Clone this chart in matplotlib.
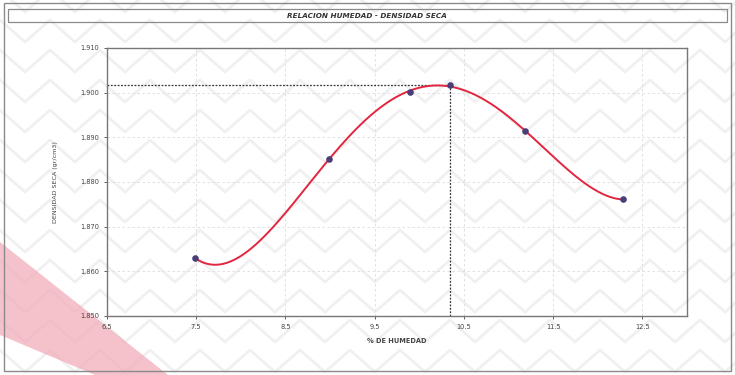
import numpy as np
import matplotlib
matplotlib.use("Agg")
import matplotlib.pyplot as plt
from matplotlib.patches import Rectangle, Polygon

# Compaction test results
humedad = [7.49, 8.99, 9.90, 10.34, 11.18, 12.28]          # % moisture
densidad = [1.8629, 1.8852, 1.9002, 1.9017, 1.8915, 1.8761]  # dry density g/cm3

x_ticks = [6.5, 7.5, 8.5, 9.5, 10.5, 11.5, 12.5]
y_ticks = [1.850, 1.860, 1.870, 1.880, 1.890, 1.900, 1.910]

titulo = "RELACION HUMEDAD - DENSIDAD SECA"
x_label = "% DE HUMEDAD"
y_label = "DENSIDAD SECA (gr/cm3)"

W, H = 735, 375
fig = plt.figure(figsize=(W / 100, H / 100), dpi=100)
fig.patch.set_facecolor("white")

# background chevron texture
bg = fig.add_axes([0, 0, 1, 1], zorder=-10)
bg.set_xlim(0, W)
bg.set_ylim(H, 0)
bg.axis("off")
period_x, amp, row_gap = 50, 22, 30
xs_bg = np.arange(-period_x, W + period_x, period_x / 2)
for k, y0 in enumerate(np.arange(-40, H + 60, row_gap)):
    ys_bg = y0 + np.where(np.arange(len(xs_bg)) % 2 == 0, 0, amp)
    bg.plot(xs_bg, ys_bg, color="#f0f0f0", lw=2.0, zorder=0)

# pink diagonal band in the lower-left corner
band = Polygon([[0, 242], [0, 335], [95, 375], [168, 375]], closed=True,
               facecolor="#f1a9b6", edgecolor="none", alpha=0.7, zorder=1)
bg.add_patch(band)

# frames
bg.add_patch(Rectangle((4, 3), 727, 368, fill=False, edgecolor="#8a8a8a", lw=1.0))
bg.add_patch(Rectangle((8, 9), 719, 13, fill=False, edgecolor="#8a8a8a", lw=0.9))
bg.text(367, 15.5, titulo, ha="center", va="center", fontsize=5.2,
        fontstyle="italic", fontweight="bold", color="#333333")

# main plot area
ax = fig.add_axes([107 / W, 1 - 316 / H, (687 - 107) / W, (316 - 48) / H])
ax.patch.set_alpha(0)
ax.set_xlim(6.5, 13.0)
ax.set_ylim(1.850, 1.910)
ax.set_xticks(x_ticks)
ax.set_yticks(y_ticks)
ax.set_xticklabels([f"{v:.1f}" for v in x_ticks])
ax.set_yticklabels([f"{v:.3f}" for v in y_ticks])
ax.tick_params(labelsize=4.8, colors="#444444", length=2, width=0.6)
for s in ax.spines.values():
    s.set_color("#777777")
    s.set_linewidth(1.0)
ax.grid(True, color="#dcdcdc", linestyle=(0, (3, 3)), linewidth=0.6)

# 4th-order polynomial trend through the test points
coef = np.polyfit(humedad, densidad, 4)
xx = np.linspace(min(humedad), max(humedad), 500)
yy = np.polyval(coef, xx)
ax.plot(xx, yy, color="#e3263f", lw=1.4, zorder=3)
ax.scatter(humedad, densidad, s=14, color="#4a3d78", zorder=4)

# optimum moisture / maximum dry density (highest test point)
i_max = int(np.argmax(densidad))
x_opt, y_opt = humedad[i_max], densidad[i_max]
ax.plot([6.5, x_opt], [y_opt, y_opt], color="#333333", lw=0.9, ls=(0, (1.5, 1.2)), zorder=2)
ax.plot([x_opt, x_opt], [1.850, y_opt], color="#333333", lw=0.9, ls=(0, (1.5, 1.2)), zorder=2)

ax.set_xlabel(x_label, fontsize=4.8, fontweight="bold", color="#444444", labelpad=6)
ax.set_ylabel(y_label, fontsize=4.6, color="#444444", labelpad=16)

fig.savefig("out.png", dpi=100)
